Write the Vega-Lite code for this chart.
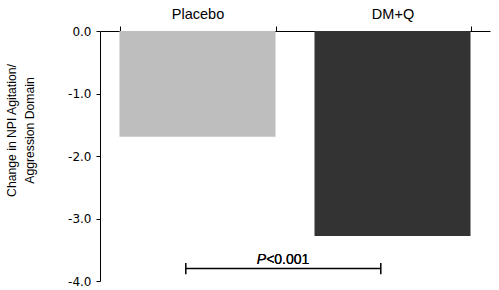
{
  "$schema": "https://vega.github.io/schema/vega-lite/v6.json",
  "width": 390,
  "height": 250,
  "autosize": {"type": "none"},
  "padding": {"left": 100, "top": 31, "right": 9, "bottom": 9},
  "background": "white",
  "config": {"view": {"stroke": null}},
  "data": {"values": [
    {"group": "Placebo", "change": -1.69},
    {"group": "DM+Q", "change": -3.28}
  ]},
  "encoding": {
    "x": {
      "field": "group", "type": "nominal",
      "scale": {"domain": ["Placebo", "DM+Q"], "paddingInner": 0.2, "paddingOuter": 0.1},
      "axis": {
        "orient": "top", "title": null, "tickBand": "extent",
        "labelAngle": 0, "labelFont": "Liberation Sans", "labelFontSize": 14.5,
        "labelColor": "black", "labelPadding": 5, "tickSize": 5,
        "tickColor": "black", "domainColor": "black", "tickWidth": 1, "domainWidth": 1
      }
    }
  },
  "layer": [
    {
      "mark": {"type": "bar"},
      "encoding": {
        "y": {
          "field": "change", "type": "quantitative",
          "scale": {"domain": [-4, 0], "nice": false, "zero": false},
          "axis": {
            "values": [-4, -3.5, -3, -2.5, -2, -1.5, -1, -0.5, 0],
            "labelExpr": "datum.value % 1 === 0 ? replace(format(datum.value, '.1f'), '\u2212', '-') : ''",
            "grid": false, "tickSize": 4, "tickColor": "black", "domainColor": "black",
            "labelFont": "DejaVu Sans", "labelFontSize": 12, "labelColor": "black", "labelPadding": 5,
            "title": ["Change in NPI Agitation/", "Aggression Domain"],
            "titleFont": "Liberation Sans", "titleFontSize": 12.2, "titleFontWeight": "normal",
            "titleColor": "black", "titleAngle": -90, "titleX": -82, "titleY": 99,
            "titleAlign": "center", "titleBaseline": "bottom", "titleLineHeight": 18
          }
        },
        "color": {
          "field": "group", "type": "nominal",
          "scale": {"domain": ["Placebo", "DM+Q"], "range": ["#bebebe", "#333333"]},
          "legend": null
        }
      }
    },
    {
      "mark": {"type": "line", "color": "black", "strokeWidth": 1.5},
      "encoding": {
        "x": {"field": "group", "type": "nominal", "bandPosition": 0.425},
        "y": {"datum": -3.8, "type": "quantitative"}
      }
    },
    {
      "mark": {"type": "rule", "color": "black", "strokeWidth": 1.5},
      "encoding": {
        "x": {"field": "group", "type": "nominal", "bandPosition": 0.425},
        "y": {"datum": -3.71, "type": "quantitative"},
        "y2": {"datum": -3.89}
      }
    },
    {
      "mark": {"type": "text", "text": "P", "font": "Liberation Sans", "fontSize": 14, "fontStyle": "italic", "align": "right", "baseline": "alphabetic", "color": "black"},
      "encoding": {
        "x": {"datum": "Placebo", "type": "nominal", "bandPosition": 0.94},
        "y": {"datum": -3.72, "type": "quantitative"}
      }
    },
    {
      "mark": {"type": "text", "text": "<0.001", "font": "Liberation Sans", "fontSize": 14, "align": "left", "baseline": "alphabetic", "color": "black"},
      "encoding": {
        "x": {"datum": "Placebo", "type": "nominal", "bandPosition": 0.94},
        "y": {"datum": -3.72, "type": "quantitative"}
      }
    }
  ]
}
